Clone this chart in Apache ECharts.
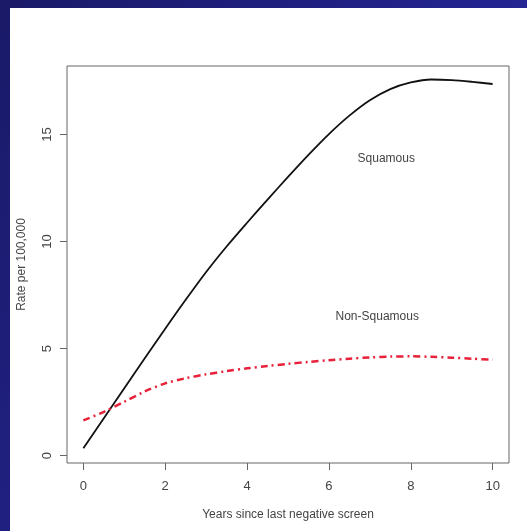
<!DOCTYPE html>
<html>
<head>
<meta charset="utf-8">
<script src="https://cdn.jsdelivr.net/npm/echarts@6/dist/echarts.min.js"></script>
<style>
	html, body { margin: 0; padding: 0; width: 527px; height: 531px; overflow: hidden; }
	body { background: linear-gradient(120deg, #1a1a68 0%, #22228a 50%, #2b2cab 100%); position: relative; }
	#container { position: absolute; left: 10px; top: 8px; width: 517px; height: 523px; background: #fff; }
</style>
</head>
<body>
<div id="container"></div>
<script>
// years since last negative screen
var years = [0, 0.5, 1, 1.5, 2, 2.5, 3, 3.5, 4, 4.5, 5, 5.5, 6, 6.5, 7, 7.5, 8, 8.5, 9, 9.5, 10];
// rate per 100,000
var squamous = [0.35, 1.75, 3.15, 4.55, 5.93, 7.28, 8.58, 9.77, 10.88, 11.96, 13.02, 14.05, 15.02, 15.88, 16.6, 17.12, 17.43, 17.57, 17.54, 17.46, 17.36];
var nonSquamous = [1.65, 2.05, 2.52, 3.0, 3.38, 3.62, 3.8, 3.95, 4.08, 4.19, 4.29, 4.38, 4.46, 4.53, 4.59, 4.63, 4.64, 4.62, 4.58, 4.53, 4.48];
var xTicks = [0, 2, 4, 6, 8, 10];
var yTicks = [0, 5, 10, 15];
var labelPos = { squamous: [7.4, 13.85], nonSquamous: [7.18, 6.5] };

var txt = '#444';
var font = 'Liberation Sans, Arial, sans-serif';

function pairs(ys) {
	var out = [];
	for (var i = 0; i < years.length; i++) out.push([years[i], ys[i]]);
	return out;
}

var chart = echarts.init(document.getElementById('container'));
var option = {
	animation: false,
	grid: {
		left: 57, top: 58, right: 18, bottom: 68,
		outerBoundsMode: 'none', containLabel: false,
		show: true, borderColor: '#666', borderWidth: 1, backgroundColor: '#fff'
	},
	xAxis: {
		type: 'value', min: -0.4, max: 10.4,
		name: 'Years since last negative screen', nameLocation: 'middle', nameGap: 46,
		nameTextStyle: { color: txt, fontSize: 12, fontFamily: font },
		axisLine: { show: false, onZero: false },
		splitLine: { show: false },
		axisTick: { show: true, length: 7, inside: false, customValues: xTicks, lineStyle: { color: '#666' } },
		axisLabel: { customValues: xTicks, margin: 17, color: txt, fontSize: 13, fontFamily: font }
	},
	yAxis: {
		type: 'value', min: -0.34, max: 18.2,
		name: 'Rate per 100,000', nameLocation: 'middle', nameGap: 39, nameRotate: 90,
		nameTextStyle: { color: txt, fontSize: 12, fontFamily: font },
		axisLine: { show: false, onZero: false },
		splitLine: { show: false },
		axisTick: { show: true, length: 7, inside: false, customValues: yTicks, lineStyle: { color: '#666' } },
		axisLabel: { customValues: yTicks, rotate: 90, margin: 13, color: txt, fontSize: 13, fontFamily: font }
	},
	series: [{
		name: 'Squamous',
		type: 'line',
		smooth: 0.3,
		showSymbol: false,
		lineStyle: { color: '#111', width: 1.8 },
		data: pairs(squamous),
		markPoint: {
			symbol: 'circle', symbolSize: 0,
			label: { show: true, formatter: 'Squamous', color: txt, fontSize: 12, fontFamily: font },
			data: [{ coord: labelPos.squamous }]
		}
	}, {
		name: 'Non-Squamous',
		type: 'line',
		smooth: 0.3,
		showSymbol: false,
		lineStyle: { color: '#e8213a', width: 2.5, type: [7, 4, 2, 4] },
		data: pairs(nonSquamous),
		markPoint: {
			symbol: 'circle', symbolSize: 0,
			label: { show: true, formatter: 'Non-Squamous', color: txt, fontSize: 12, fontFamily: font },
			data: [{ coord: labelPos.nonSquamous }]
		}
	}]
};
chart.setOption(option);
</script>
</body>
</html>
